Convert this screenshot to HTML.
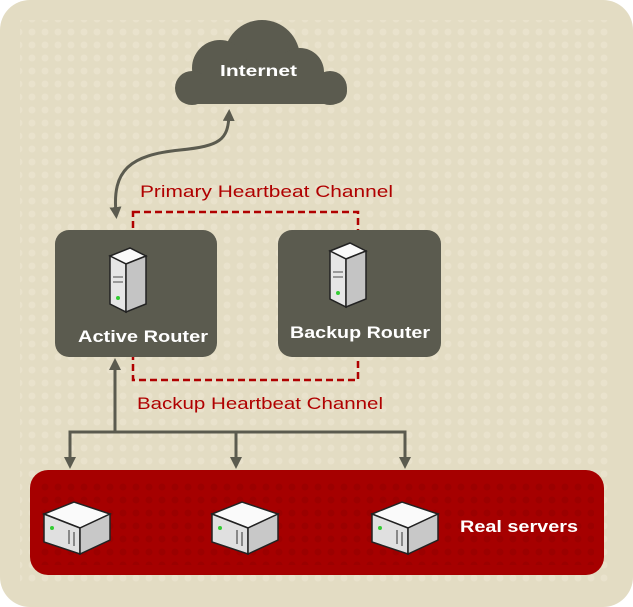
<!DOCTYPE html>
<html><head><style>
html,body{margin:0;padding:0;background:#fff;}
svg{display:block;font-family:"Liberation Sans",sans-serif;font-weight:bold;}
</style></head><body>
<svg width="633" height="607" viewBox="0 0 633 607" xmlns="http://www.w3.org/2000/svg">
<defs>
<pattern id="dots" width="13" height="13" patternUnits="userSpaceOnUse"><circle cx="6" cy="6" r="3.5" fill="#ebe5d0"/></pattern>
<pattern id="rdots" width="13" height="13" patternUnits="userSpaceOnUse"><circle cx="6" cy="6" r="3.5" fill="#9a0000"/></pattern>
<marker id="ah" viewBox="0 0 10 10" refX="5" refY="5" markerWidth="4" markerHeight="4" orient="auto-start-reverse"><path d="M0,0L10,5L0,10z" fill="#5b5b4f"/></marker>
<g id="srv">
<path d="M0,12 L30,0 L66,12 L36,26 Z" fill="#fafafa" stroke="#222" stroke-width="1.5"/>
<path d="M0,12 L36,26 L36,52 L0,40 Z" fill="#e0e0e0" stroke="#222" stroke-width="1.5"/>
<path d="M36,26 L66,12 L66,38 L36,52 Z" fill="#c8c8c8" stroke="#222" stroke-width="1.5"/>
<circle cx="8" cy="26" r="2" fill="#3c3"/>
<rect x="24" y="28" width="2" height="14" fill="#888"/><rect x="29" y="30" width="2" height="14" fill="#888"/>
</g>
<g id="tower">
<path d="M0,8 L20,0 L36,8 L16,16 Z" fill="#fafafa" stroke="#222" stroke-width="1.5"/>
<path d="M0,8 L16,16 L16,64 L0,56 Z" fill="#e6e6e6" stroke="#222" stroke-width="1.5"/>
<path d="M16,16 L36,8 L36,56 L16,64 Z" fill="#c4c4c4" stroke="#222" stroke-width="1.5"/>
<circle cx="8" cy="50" r="2" fill="#3c3"/>
<rect x="3" y="28" width="10" height="2" fill="#999"/><rect x="3" y="33" width="10" height="2" fill="#999"/>
</g>
</defs>
<rect x="0" y="0" width="633" height="607" rx="30" fill="#e3dcc3"/>
<rect x="20" y="20" width="593" height="567" fill="url(#dots)" opacity="0.7"/>
<g fill="#5b5b4f">
<circle cx="262" cy="58" r="38"/><circle cx="220" cy="68" r="28"/><circle cx="300" cy="72" r="24"/>
<circle cx="192" cy="88" r="17"/><circle cx="330" cy="88" r="17"/>
<rect x="176" y="78" width="171" height="26" rx="13"/>
</g>
<text x="220" y="76" font-size="16" fill="#fff" textLength="77" lengthAdjust="spacingAndGlyphs">Internet</text>
<path d="M116,213 C112,170 130,155 180,150 C220,146 228,140 229,115" fill="none" stroke="#5b5b4f" stroke-width="3" marker-start="url(#ah)" marker-end="url(#ah)"/>
<text x="140" y="197" font-size="17" font-weight="normal" fill="#b00000" textLength="253" lengthAdjust="spacingAndGlyphs">Primary Heartbeat Channel</text>
<rect x="133" y="212" width="225" height="168" fill="none" stroke="#b00000" stroke-width="2.5" stroke-dasharray="7,4"/>
<rect x="55" y="230" width="162" height="127" rx="14" fill="#5b5b4f"/>
<rect x="278" y="230" width="163" height="127" rx="14" fill="#5b5b4f"/>
<use href="#tower" x="110" y="248"/>
<use href="#tower" x="330" y="243"/>
<text x="78" y="342" font-size="17" fill="#fff" textLength="130" lengthAdjust="spacingAndGlyphs">Active Router</text>
<text x="290" y="338" font-size="17" fill="#fff" textLength="140" lengthAdjust="spacingAndGlyphs">Backup Router</text>
<text x="137" y="409" font-size="17" font-weight="normal" fill="#b00000" textLength="246" lengthAdjust="spacingAndGlyphs">Backup Heartbeat Channel</text>
<g stroke="#5b5b4f" stroke-width="3" fill="none">
<line x1="115" y1="432" x2="115" y2="364" marker-end="url(#ah)"/>
<polyline points="70,463 70,432 405,432 405,463" marker-start="url(#ah)" marker-end="url(#ah)"/>
<line x1="236" y1="432" x2="236" y2="463" marker-end="url(#ah)"/>
</g>
<rect x="30" y="470" width="574" height="105" rx="18" fill="#a60000"/>
<rect x="40" y="480" width="554" height="85" fill="url(#rdots)" opacity="0.8"/>
<use href="#srv" x="44" y="502"/>
<use href="#srv" x="212" y="502"/>
<use href="#srv" x="372" y="502"/>
<text x="460" y="532" font-size="17" fill="#fff" textLength="118" lengthAdjust="spacingAndGlyphs">Real servers</text>
</svg>
</body></html>
